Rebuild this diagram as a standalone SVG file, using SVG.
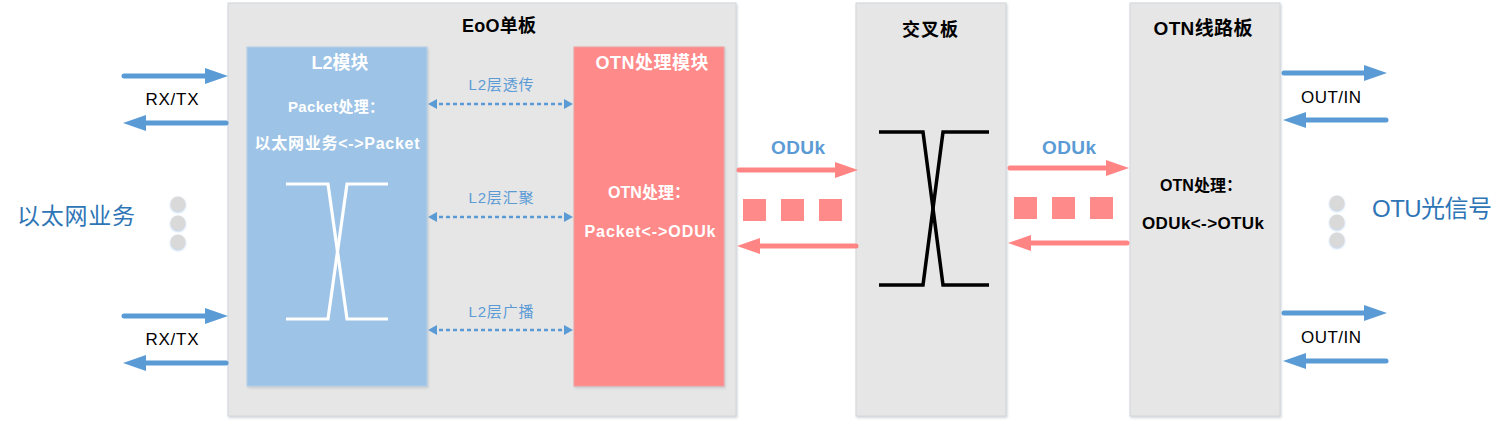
<svg xmlns="http://www.w3.org/2000/svg" width="1509" height="425" viewBox="0 0 1509 425">
<defs>
  <filter id="sh" x="-10%" y="-10%" width="120%" height="120%">
    <feDropShadow dx="1" dy="1.5" stdDeviation="1.2" flood-color="#9aa4b0" flood-opacity="0.45"/>
  </filter>
  <filter id="glow" x="-50%" y="-50%" width="200%" height="200%">
    <feDropShadow dx="0" dy="1" stdDeviation="1.2" flood-color="#6fa3d8" flood-opacity="0.6"/>
  </filter>
  <marker id="bigB" markerUnits="userSpaceOnUse" viewBox="0 0 23 16" refX="11" refY="8" markerWidth="23" markerHeight="16" orient="auto">
    <path d="M0,0 L23,8 L0,16 z" fill="#5b9bd5"/>
  </marker>
  <marker id="bigR" markerUnits="userSpaceOnUse" viewBox="0 0 23 16" refX="11" refY="8" markerWidth="23" markerHeight="16" orient="auto">
    <path d="M0,0 L23,8 L0,16 z" fill="#ff8585"/>
  </marker>
  <marker id="smB" markerUnits="userSpaceOnUse" viewBox="0 0 9 10" refX="5" refY="5" markerWidth="9" markerHeight="10" orient="auto-start-reverse">
    <path d="M0,0 L9,5 L0,10 z" fill="#5b9bd5"/>
  </marker>
</defs>
<style>
  .board{fill:#e6e6e6;stroke:#d2d6db;stroke-width:1}
  .t{font-family:"Liberation Sans","Noto Sans CJK SC",sans-serif}
  .b{font-weight:bold}
  .w{fill:#ffffff}
  .k{fill:#000000}
  .bl{fill:#5b9bd5}
  .ab{stroke:#5b9bd5;stroke-width:5;stroke-linecap:round;fill:none}
  .ar{stroke:#ff8585;stroke-width:5;stroke-linecap:round;fill:none}
  .dash{stroke:#5b9bd5;stroke-width:2.5;stroke-dasharray:4 3;fill:none}
  .sq{fill:#ff8a8a}
  .dot{fill:#d9d9d9}
</style>

<g id="eoo-board">
  <rect class="board" x="228" y="3" width="508" height="413" filter="url(#sh)"/>
  <text class="t b k" x="499" y="32" font-size="18" text-anchor="middle" textLength="74">EoO单板</text>
</g>

<g id="l2-module">
  <rect x="247" y="47" width="180" height="339" fill="#9dc3e6" stroke="#b7cfe6" stroke-width="1" filter="url(#sh)"/>
  <text class="t b w" x="340" y="69" font-size="18" text-anchor="middle" textLength="57">L2模块</text>
  <text class="t b w" x="336" y="112" font-size="15" text-anchor="middle" textLength="96">Packet处理：</text>
  <text class="t b w" x="337" y="149" font-size="16" text-anchor="middle" textLength="165">以太网业务&lt;-&gt;Packet</text>
  <g stroke="#ffffff" stroke-width="3.2" fill="none" stroke-linejoin="miter">
    <path d="M286,184 L328,184 L347,319 L388,319"/>
    <path d="M388,184 L347,184 L328,319 L286,319"/>
  </g>
</g>

<g id="otn-module">
  <rect x="574" y="47" width="150" height="339" fill="#ff8a8a" stroke="#f0a0a0" stroke-width="1" filter="url(#sh)"/>
  <text class="t b w" x="652" y="69" font-size="18" text-anchor="middle" textLength="113">OTN处理模块</text>
  <text class="t b w" x="649" y="198" font-size="16" text-anchor="middle" textLength="82">OTN处理：</text>
  <text class="t b w" x="650" y="237" font-size="16" text-anchor="middle" textLength="131">Packet&lt;-&gt;ODUk</text>
</g>

<g id="cross-board">
  <rect class="board" x="856" y="3" width="150" height="413" filter="url(#sh)"/>
  <text class="t b k" x="930" y="36" font-size="18" text-anchor="middle" textLength="56">交叉板</text>
  <g stroke="#000000" stroke-width="3.5" fill="none">
    <path d="M879,132 L923,132 L943,285 L989,285"/>
    <path d="M989,132 L943,132 L923,285 L879,285"/>
  </g>
</g>

<g id="otn-line-board">
  <rect class="board" x="1130" y="3" width="150" height="413" filter="url(#sh)"/>
  <text class="t b k" x="1203" y="35" font-size="19" text-anchor="middle" textLength="99">OTN线路板</text>
  <text class="t b k" x="1201" y="191" font-size="16" text-anchor="middle" textLength="82">OTN处理：</text>
  <text class="t b k" x="1203" y="229" font-size="17" text-anchor="middle" textLength="122">ODUk&lt;-&gt;OTUk</text>
</g>

<g id="ethernet-side">
  <text class="t" x="76" y="224" font-size="23" fill="#2e75b6" text-anchor="middle" textLength="118">以太网业务</text>
  <g filter="url(#glow)">
    <circle class="dot" cx="178" cy="204" r="7.5"/>
    <circle class="dot" cx="178" cy="223" r="7.5"/>
    <circle class="dot" cx="178" cy="242" r="7.5"/>
  </g>
  <text class="t k" x="172" y="105" font-size="17" text-anchor="middle" textLength="53">RX/TX</text>
  <text class="t k" x="172" y="345" font-size="17" text-anchor="middle" textLength="53">RX/TX</text>
</g>

<g id="otu-side">
  <text class="t" x="1432" y="217" font-size="24" fill="#2e75b6" text-anchor="middle" textLength="120">OTU光信号</text>
  <g filter="url(#glow)">
    <circle class="dot" cx="1337" cy="203" r="7.5"/>
    <circle class="dot" cx="1337" cy="222" r="7.5"/>
    <circle class="dot" cx="1337" cy="240" r="7.5"/>
  </g>
  <text class="t k" x="1331" y="103" font-size="17" text-anchor="middle" textLength="60">OUT/IN</text>
  <text class="t k" x="1331" y="343" font-size="17" text-anchor="middle" textLength="60">OUT/IN</text>
</g>

<g id="oduk-left">
  <text class="t b bl" x="798" y="154" font-size="19" text-anchor="middle" textLength="54">ODUk</text>
  <rect class="sq" x="743" y="199" width="23" height="22"/>
  <rect class="sq" x="781" y="199" width="23" height="22"/>
  <rect class="sq" x="819" y="199" width="23" height="22"/>
</g>

<g id="oduk-right">
  <text class="t b bl" x="1069" y="154" font-size="19" text-anchor="middle" textLength="54">ODUk</text>
  <rect class="sq" x="1014" y="197" width="23" height="22"/>
  <rect class="sq" x="1052" y="197" width="23" height="22"/>
  <rect class="sq" x="1090" y="197" width="23" height="22"/>
</g>

<g id="l2-links">
  <text class="t bl" x="501" y="90" font-size="15" text-anchor="middle" textLength="65">L2层透传</text>
  <text class="t bl" x="501" y="203" font-size="15" text-anchor="middle" textLength="65">L2层汇聚</text>
  <text class="t bl" x="501" y="317" font-size="15" text-anchor="middle" textLength="65">L2层广播</text>
</g>

<g id="connectors">
  <line class="ab" x1="124" y1="76" x2="216" y2="76" marker-end="url(#bigB)"/>
  <line class="ab" x1="226" y1="123" x2="135" y2="123" marker-end="url(#bigB)"/>
  <line class="ab" x1="124" y1="316" x2="216" y2="316" marker-end="url(#bigB)"/>
  <line class="ab" x1="226" y1="363" x2="135" y2="363" marker-end="url(#bigB)"/>
  <line class="ab" x1="1284" y1="73" x2="1375" y2="73" marker-end="url(#bigB)"/>
  <line class="ab" x1="1386" y1="120" x2="1295" y2="120" marker-end="url(#bigB)"/>
  <line class="ab" x1="1284" y1="313" x2="1375" y2="313" marker-end="url(#bigB)"/>
  <line class="ab" x1="1386" y1="361" x2="1295" y2="361" marker-end="url(#bigB)"/>
  <line class="ar" x1="739" y1="170" x2="846" y2="170" marker-end="url(#bigR)"/>
  <line class="ar" x1="856" y1="246" x2="749" y2="246" marker-end="url(#bigR)"/>
  <line class="ar" x1="1010" y1="168" x2="1117" y2="168" marker-end="url(#bigR)"/>
  <line class="ar" x1="1127" y1="243" x2="1020" y2="243" marker-end="url(#bigR)"/>
  <line class="dash" x1="432" y1="104" x2="569" y2="104" marker-start="url(#smB)" marker-end="url(#smB)"/>
  <line class="dash" x1="432" y1="217" x2="569" y2="217" marker-start="url(#smB)" marker-end="url(#smB)"/>
  <line class="dash" x1="432" y1="330" x2="569" y2="330" marker-start="url(#smB)" marker-end="url(#smB)"/>
</g>
</svg>
